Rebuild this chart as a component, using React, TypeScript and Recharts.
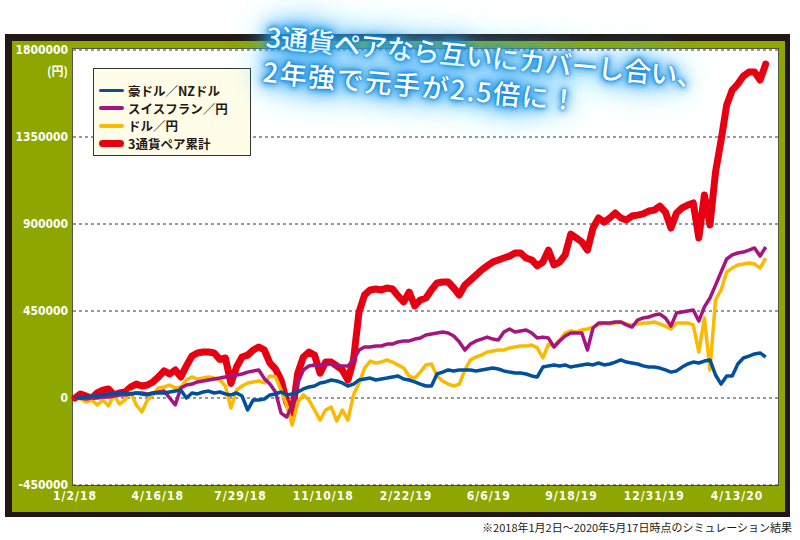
import { LineChart, Line, XAxis, YAxis, CartesianGrid } from "recharts";

// x axis: days since 1/2/18, one point a week; values in 千円
const tickLabels = ["1/2/18", "4/16/18", "7/29/18", "11/10/18", "2/22/19", "6/6/19", "9/18/19", "12/31/19", "4/13/20"];
const tickDays = tickLabels.map((_, i) => i * 104);
const yTicks = [-450000, 0, 450000, 900000, 1350000, 1800000];

const audNzd = [
  0, 0, 5, 10, 10, 16, 21, 21, 26, 26,
  21, 26, 21, 16, 26, 26, 26, 31, 36, 41,
  0, 26, 21, 31, 36, 26, 31, 21, 16, 26,
  10, -62, -10, -10, -5, 16, 21, 31, 16, 21,
  31, 47, 57, 62, 78, 83, 93, 88, 78, 62,
  72, 93, 98, 103, 93, 98, 103, 109, 114, 98,
  93, 83, 72, 62, 62, 124, 134, 145, 140, 145,
  145, 145, 140, 145, 150, 155, 150, 140, 134, 129,
  129, 124, 114, 109, 160, 166, 171, 166, 171, 160,
  166, 171, 176, 171, 181, 171, 176, 186, 197, 186,
  181, 176, 166, 160, 160, 155, 145, 134, 140, 160,
  176, 186, 181, 191, 197, 119, 72, 114, 114, 176,
  207, 217, 228, 233, 212,
];

const chfJpy = [
  0, 0, -5, 0, 0, 5, 5, 10, 16, 16,
  21, 26, 26, 21, 26, 31, 36, 0, -36, 52,
  67, 72, 83, 88, 93, 98, 103, 109, 114, 119,
  124, 134, 140, 145, 100, 72, 31, -78, -98, -36,
  78, 145, 166, 171, 166, 176, 176, 166, 166, 166,
  197, 248, 264, 264, 269, 269, 279, 279, 290, 295,
  295, 305, 310, 326, 331, 336, 341, 336, 321, 290,
  248, 279, 295, 305, 315, 305, 300, 341, 357, 341,
  347, 352, 336, 310, 315, 310, 264, 295, 321, 336,
  336, 336, 248, 362, 388, 388, 388, 393, 393, 378,
  367, 403, 414, 419, 429, 434, 414, 372, 440, 445,
  450, 455, 398, 471, 517, 584, 652, 719, 740, 750,
  755, 765, 776, 734, 781,
];

const usdJpy = [
  0, -5, -21, -10, -36, -10, -41, 16, -31, -10,
  31, -36, -72, -10, 16, 52, 57, 67, 52, 57,
  93, 109, 98, 103, 109, 103, 93, 62, -52, 41,
  62, 78, 83, 88, 78, 114, 109, 41, -36, -140,
  -21, 16, -10, -62, -114, -62, -47, -119, -62, -114,
  16, 78, 155, 191, 181, 186, 197, 186, 171, 155,
  114, 103, 134, 171, 176, 114, 88, 72, 62, 72,
  145, 197, 212, 222, 238, 243, 248, 248, 259, 264,
  269, 269, 274, 259, 207, 279, 269, 300, 336, 347,
  341, 352, 357, 367, 378, 388, 383, 388, 393, 383,
  378, 383, 388, 388, 393, 383, 372, 357, 388, 388,
  388, 378, 238, 414, 145, 507, 559, 652, 672, 688,
  693, 698, 693, 672, 724,
];

const total = [
  0, 21, 10, 0, 26, 41, 47, 16, 26, 31,
  57, 72, 62, 67, 83, 109, 140, 124, 145, 109,
  166, 217, 233, 238, 238, 233, 200, 207, 75, 160,
  212, 222, 248, 264, 248, 180, 150, 93, -20, -78,
  129, 212, 238, 222, 129, 186, 186, 166, 145, 93,
  197, 445, 533, 559, 564, 559, 569, 564, 528, 497,
  548, 476, 507, 517, 559, 595, 600, 600, 569, 533,
  584, 610, 636, 662, 683, 703, 714, 724, 734, 750,
  750, 724, 714, 683, 703, 765, 688, 703, 740, 848,
  828, 807, 765, 879, 931, 910, 931, 957, 931, 921,
  941, 946, 952, 967, 972, 993, 962, 879, 957, 983,
  998, 1009, 828, 1050, 895, 1169, 1334, 1515, 1593, 1624,
  1665, 1686, 1686, 1645, 1727,
];

const data = total.map((_, i) => ({
  day: i * 7,
  audNzd: audNzd[i] * 1000,
  chfJpy: chfJpy[i] * 1000,
  usdJpy: usdJpy[i] * 1000,
  total: total[i] * 1000,
}));

const legendItems = [
  { name: "豪ドル／NZドル", color: "#00509e", width: 3 },
  { name: "スイスフラン／円", color: "#a6157f", width: 4 },
  { name: "ドル／円", color: "#fbb900", width: 4 },
  { name: "3通貨ペア累計", color: "#e60012", width: 7 },
];

const axisFont = "'DejaVu Sans Condensed', 'DejaVu Sans', sans-serif";
const jpFont = "'Noto Sans CJK JP', 'Noto Sans', sans-serif";

const abs = (left: number, top: number, width: number, height: number) => ({
  position: "absolute" as const,
  left,
  top,
  width,
  height,
});

const App = () => (
  <div style={{ position: "absolute", left: 0, top: 0, width: 800, height: 540, background: "#fff", overflow: "hidden" }}>
    <div style={{ ...abs(5, 34, 785, 483), background: "#231815" }} />
    <div style={{ ...abs(12, 41, 773, 471), background: "#8ea600" }} />
    <div style={{ ...abs(72, 48, 707, 438), background: "#fff", border: "1.5px solid #55554a", boxSizing: "border-box" }} />

    <div style={{ position: "absolute", left: 0, top: 0 }}>
      <LineChart width={800} height={540} data={data} margin={{ top: 50, right: 22, bottom: 25, left: 13 }}>
        <CartesianGrid vertical={false} stroke="#333" strokeDasharray="3 3" />
        <XAxis
          dataKey="day"
          type="number"
          domain={[-2.5, 883.5]}
          ticks={tickDays}
          interval={0}
          height={30}
          axisLine={false}
          tickLine={false}
          tickSize={0}
          tickMargin={6}
          tickFormatter={(v: number) => tickLabels[Math.round(v / 104)] ?? ""}
          tick={{ fill: "#fff", fontSize: 12, fontFamily: axisFont, fontWeight: "bold", letterSpacing: 1 }}
        />
        <YAxis
          type="number"
          domain={[-450000, 1800000]}
          ticks={yTicks}
          interval={0}
          width={60}
          axisLine={false}
          tickLine={false}
          tickSize={0}
          tickMargin={5}
          allowDataOverflow
          tick={{ fill: "#fff", fontSize: 12, fontFamily: axisFont, fontWeight: "bold" }}
        />
        <Line type="linear" dataKey="total" stroke="#e60012" strokeWidth={7} dot={false} activeDot={false} strokeLinejoin="round" strokeLinecap="round" isAnimationActive={false} />
        <Line type="linear" dataKey="usdJpy" stroke="#fbb900" strokeWidth={3.5} dot={false} activeDot={false} strokeLinejoin="round" isAnimationActive={false} />
        <Line type="linear" dataKey="chfJpy" stroke="#a6157f" strokeWidth={3.5} dot={false} activeDot={false} strokeLinejoin="round" isAnimationActive={false} />
        <Line type="linear" dataKey="audNzd" stroke="#00509e" strokeWidth={3.5} dot={false} activeDot={false} strokeLinejoin="round" isAnimationActive={false} />
      </LineChart>
    </div>

    <div style={{ position: "absolute", left: 0, top: 62, width: 68, textAlign: "right", color: "#fff", fontSize: 12, fontFamily: jpFont, fontWeight: "bold" }}>
      (円)
    </div>

    {/* legend */}
    <div style={{ ...abs(93, 68, 158, 88), background: "#fffde8", border: "1px solid #333", boxSizing: "border-box" }}>
      {legendItems.map((it, i) => (
        <div key={it.name} style={{ position: "absolute", left: 5, top: 13 + i * 17.5, height: 17, display: "flex", alignItems: "center" }}>
          <div style={{ width: 25, height: it.width, background: it.color, borderRadius: it.width / 2, marginRight: 4 }} />
          <span style={{ fontFamily: jpFont, fontWeight: "bold", fontSize: 12.5, color: "#231815", lineHeight: "17px", whiteSpace: "nowrap" }}>
            {it.name}
          </span>
        </div>
      ))}
    </div>

    {/* headline */}
    <div
      style={{
        position: "absolute",
        left: 268,
        top: 18,
        transform: "rotate(5.3deg)",
        transformOrigin: "0 0",
        color: "#fff",
        fontFamily: jpFont,
        fontWeight: 500,
        fontSize: 27,
        lineHeight: "35px",
        whiteSpace: "nowrap",
        textShadow:
          "0 0 2px #0a7fd8, 0 0 4px #0a7fd8, 0 0 7px #1a8fe0, 0 0 11px #2a9be8, 0 0 16px #2a9be8, 0 0 22px #3aa8ee, 0 0 30px #4fb6f2, 0 0 40px #6cc4f5, 0 0 52px #8fd3f8",
      }}
    >
      <div style={{ letterSpacing: -0.5 }}>3通貨ペアなら互いにカバーし合い、</div>
      <div style={{ letterSpacing: 1.5 }}>2年強で元手が2.5倍に！</div>
    </div>

    <div style={{ position: "absolute", left: 0, top: 520, width: 792, textAlign: "right", fontFamily: jpFont, fontSize: 11, lineHeight: "14px", color: "#231815" }}>
      ※2018年1月2日～2020年5月17日時点のシミュレーション結果
    </div>
  </div>
);

export default App;
